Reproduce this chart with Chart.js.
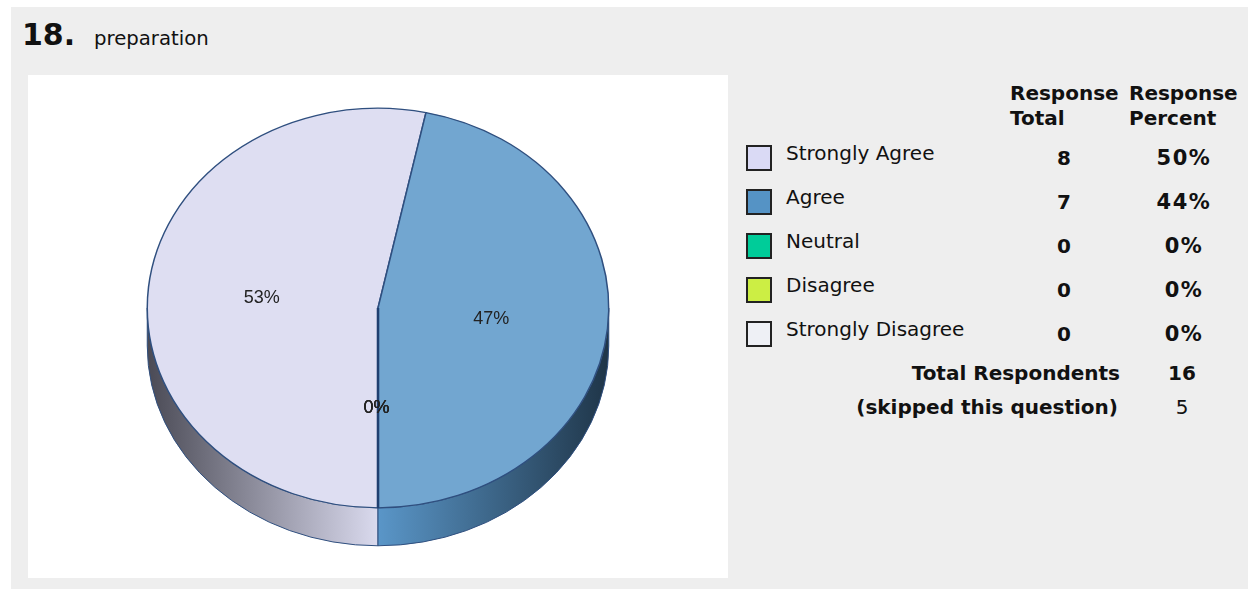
<!DOCTYPE html>
<html lang="en">
<head>
    <meta charset="UTF-8">
    <title>18. preparation</title>
    <script src="https://cdn.jsdelivr.net/npm/chart.js"></script>
    <style>
        html, body { margin: 0; padding: 0; background: #fff; }
        body { width: 1248px; height: 590px; overflow: hidden; position: relative; font-family: "DejaVu Sans", sans-serif; color: #111; }
        #panel { position: absolute; left: 11px; top: 7px; width: 1237px; height: 582px; background: #eeeeee; }
        #chartBox { position: absolute; left: 28px; top: 75px; width: 700px; height: 503px; background: #fff; }
        .t { position: absolute; white-space: nowrap; line-height: 24px; height: 24px; font-size: 20px; }
        .b { font-weight: bold; }
        .c { transform: translateX(-50%); }
        .r { transform: translateX(-100%); }
        .pct { font-size: 21px; letter-spacing: 1.5px; }
        .swatch { position: absolute; left: 746px; width: 22px; height: 22px; border: 2px solid #222; }
    </style>
</head>
<body>
    <div id="panel"></div>
    <div class="t b" style="left:22px;top:20px;font-size:30px;line-height:30px;height:30px">18.</div>
    <div class="t" style="left:94px;top:27px;font-size:19.7px">preparation</div>
    <div id="chartBox"><canvas id="pie" width="700" height="503"></canvas></div>
    <div id="side"></div>

    <script>
        // values
        const categories = ['Strongly Agree', 'Agree', 'Neutral', 'Disagree', 'Strongly Disagree'];
        const responseTotal = [8, 7, 0, 0, 0];
        const responsePercent = ['50%', '44%', '0%', '0%', '0%'];
        const totalRespondents = 16;
        const skipped = 5;
        const sliceColors = ['#dedef2', '#72a6d0', '#00cc99', '#ccee44', '#eef0f5'];
        const swatchColors = ['#dadaf5', '#5593c5', '#00cc99', '#ccee44', '#eef0f5'];
        const rimLight = ['#dadaee', '#5a96c8', '#00cc99', '#ccee44', '#eef0f5'];
        const rimDark = ['#4a4a55', '#1f3548', '#006650', '#667722', '#777880'];

        const outline = '#2f4f7f';
        const rimDepth = 38;
        const squash = 200 / 231; // top face of the pie is an ellipse

        // right hand table
        const side = document.getElementById('side');
        function addText(text, x, y, cls) {
            const d = document.createElement('div');
            d.className = 't ' + cls;
            d.textContent = text;
            d.style.left = x + 'px';
            d.style.top = (y - 12) + 'px';
            side.appendChild(d);
        }
        addText('Response', 1010, 93, 'b');
        addText('Total', 1010, 118, 'b');
        addText('Response', 1129, 93, 'b');
        addText('Percent', 1129, 118, 'b');
        categories.forEach(function (name, i) {
            const y = 158 + i * 44;
            const s = document.createElement('div');
            s.className = 'swatch';
            s.style.top = (y - 13) + 'px';
            s.style.background = swatchColors[i];
            side.appendChild(s);
            addText(name, 786, y - 5, '');
            addText(String(responseTotal[i]), 1064, y, 'b c');
            addText(responsePercent[i], 1184, y, 'b c pct');
        });
        addText('Total Respondents', 1120, 373, 'b r');
        addText(String(totalRespondents), 1182, 373, 'b c');
        addText('(skipped this question)', 1118, 407, 'b r');
        addText(String(skipped), 1182, 407, 'c');

        // squashes the pie and draws the side wall under it
        const pie3d = {
            id: 'pie3d',
            beforeDatasetsDraw(chart) {
                const ctx = chart.ctx;
                const arcs = chart.getDatasetMeta(0).data;
                arcs.forEach(function (arc, i) {
                    const p = arc.getProps(['x', 'y', 'startAngle', 'endAngle', 'outerRadius']);
                    const ry = p.outerRadius * squash;
                    [0, Math.PI * 2].forEach(function (turn) {
                        const a = Math.max(p.startAngle, turn);
                        const b = Math.min(p.endAngle, turn + Math.PI);
                        if (b <= a) return;
                        const xa = p.x + p.outerRadius * Math.cos(a);
                        const xb = p.x + p.outerRadius * Math.cos(b);
                        const g = ctx.createLinearGradient(p.x, 0, xa < p.x || xb < p.x ? p.x - p.outerRadius : p.x + p.outerRadius, 0);
                        g.addColorStop(0, rimLight[i]);
                        g.addColorStop(1, rimDark[i]);
                        ctx.beginPath();
                        ctx.ellipse(p.x, p.y, p.outerRadius, ry, 0, a, b);
                        ctx.ellipse(p.x, p.y + rimDepth, p.outerRadius, ry, 0, b, a, true);
                        ctx.closePath();
                        ctx.fillStyle = g;
                        ctx.fill();
                        ctx.strokeStyle = outline;
                        ctx.lineWidth = 1;
                        ctx.stroke();
                    });
                });
                const c = arcs[0].getProps(['x', 'y']);
                ctx.save();
                ctx.translate(c.x, c.y);
                ctx.scale(1, squash);
                ctx.translate(-c.x, -c.y);
            },
            afterDatasetsDraw(chart) {
                const ctx = chart.ctx;
                ctx.restore();
                const arcs = chart.getDatasetMeta(0).data;
                // empty slices still leave their edge lines on the pie
                arcs.forEach(function (arc, i) {
                    if (responseTotal[i] !== 0) return;
                    const p = arc.getProps(['x', 'y', 'startAngle', 'outerRadius']);
                    ctx.beginPath();
                    ctx.moveTo(p.x, p.y);
                    ctx.lineTo(p.x + Math.cos(p.startAngle) * p.outerRadius, p.y + Math.sin(p.startAngle) * p.outerRadius * squash);
                    ctx.strokeStyle = '#1f3f70';
                    ctx.lineWidth = 2.2;
                    ctx.stroke();
                });
                // percent labels at half radius, the empty slices included
                const total = responseTotal.reduce(function (a, b) { return a + b; }, 0);
                ctx.font = '18px "Liberation Sans", Arial, sans-serif';
                ctx.fillStyle = '#222';
                ctx.textAlign = 'center';
                ctx.textBaseline = 'middle';
                arcs.forEach(function (arc, i) {
                    const p = arc.getProps(['x', 'y', 'startAngle', 'endAngle', 'outerRadius']);
                    const mid = (p.startAngle + p.endAngle) / 2;
                    const x = p.x + Math.cos(mid) * p.outerRadius / 2;
                    const y = p.y + Math.sin(mid) * p.outerRadius * squash / 2;
                    ctx.fillText(Math.round(responseTotal[i] / total * 100) + '%', x - 1.5, y + 0.5);
                });
            }
        };

        new Chart(document.getElementById('pie').getContext('2d'), {
            type: 'pie',
            data: {
                labels: categories,
                datasets: [{
                    data: responseTotal,
                    backgroundColor: sliceColors,
                    borderColor: outline,
                    borderWidth: 1.5
                }]
            },
            options: {
                responsive: false,
                animation: false,
                rotation: 180,
                layout: { padding: { top: 1.5, bottom: 38.5, left: 118.5, right: 118.5 } },
                plugins: { legend: { display: false }, tooltip: { enabled: false } }
            },
            plugins: [pie3d]
        });
    </script>
</body>
</html>
